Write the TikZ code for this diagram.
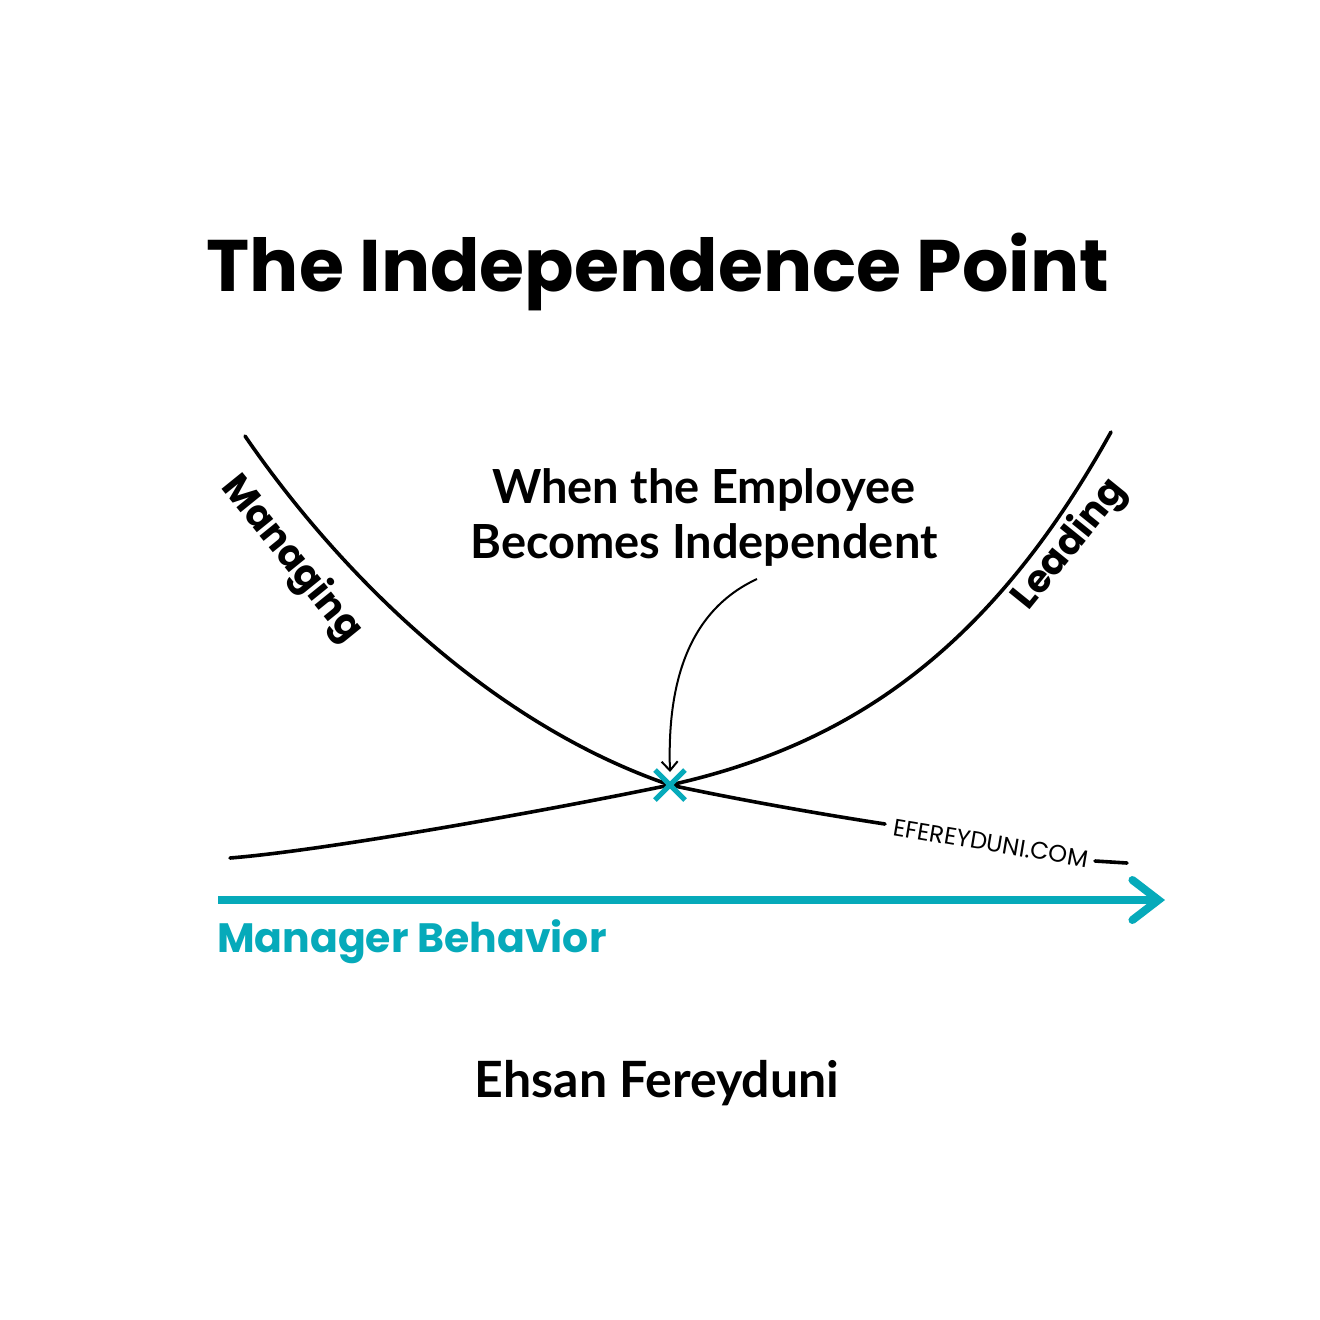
\documentclass[tikz,border=0pt]{standalone}
\usepackage{fontspec}
\setmainfont{Poppins}
\newfontfamily\handfont{Lato}
\usetikzlibrary{arrows.meta}
\definecolor{teal1}{RGB}{6,170,186}
\begin{document}
\begin{tikzpicture}[x=1pt,y=-1pt,
  curve/.style={line width=3.6pt, black, line cap=round},
  hand/.style={font=\handfont\bfseries\fontsize{47}{55}\selectfont, align=center},
  lab/.style={font=\fontsize{38}{40}\selectfont\bfseries}]
\useasboundingbox (0,0) rectangle (1320,1320);
\fill[white] (0,0) rectangle (1320,1320);
% title
\node[font=\fontsize{73}{80}\selectfont\bfseries] (title) at (658,272) {The Independence Point};
% points
\coordinate (mstart) at (245,436);
\coordinate (lstart) at (230,858);
\coordinate (lend) at (1111,432);
\coordinate (mmid) at (885,824);
\coordinate (mtail1) at (1095,861);
\coordinate (mtail2) at (1127,863);
\coordinate (X) at (670,785);
% curves
\draw[curve] (mstart) .. controls (330,560) and (480,720) .. (X) .. controls (740,800) and (820,814) .. (mmid);
\draw[curve] (mtail1) -- (mtail2);
\draw[curve] (lstart) .. controls (330,850) and (560,808) .. (X) .. controls (850,745) and (990,650) .. (lend);
% cross
\draw[teal1, line width=5pt] (655,770) -- (685,800) (655,800) -- (685,770);
% labels on curves
\node[lab, rotate=-51] (managing) at (291,559) {Managing};
\node[lab, rotate=51] (leading) at (1070,545) {Leading};
\node[font=\fontsize{24}{26}\selectfont, rotate=-9.5] (web) at (991,843) {EFEREYDUNI.COM};
% callout
\node[hand] (callout) at (704,517) {When the Employee\\Becomes Independent};
\coordinate (cstart) at (757,579);
\coordinate (cend) at (670,772);
\draw[line width=2pt, -{Straight Barb[length=9pt,width=16pt]}] (cstart) .. controls (690,610) and (667,680) .. (cend);
% axis
\coordinate (a1) at (218,900);
\coordinate (a2) at (1165,900);
\draw[teal1, line width=8pt, -{Straight Barb[length=26pt,width=40pt,line cap=round]}] (a1) -- (a2);
\node[font=\fontsize{41}{48}\selectfont\bfseries, text=teal1, anchor=base west, inner sep=0] (axislabel) at (217,952) {Manager Behavior};
% author
\node[font=\handfont\bfseries\fontsize{50}{58}\selectfont] (author) at (657,1083) {Ehsan Fereyduni};
\end{tikzpicture}
\end{document}
